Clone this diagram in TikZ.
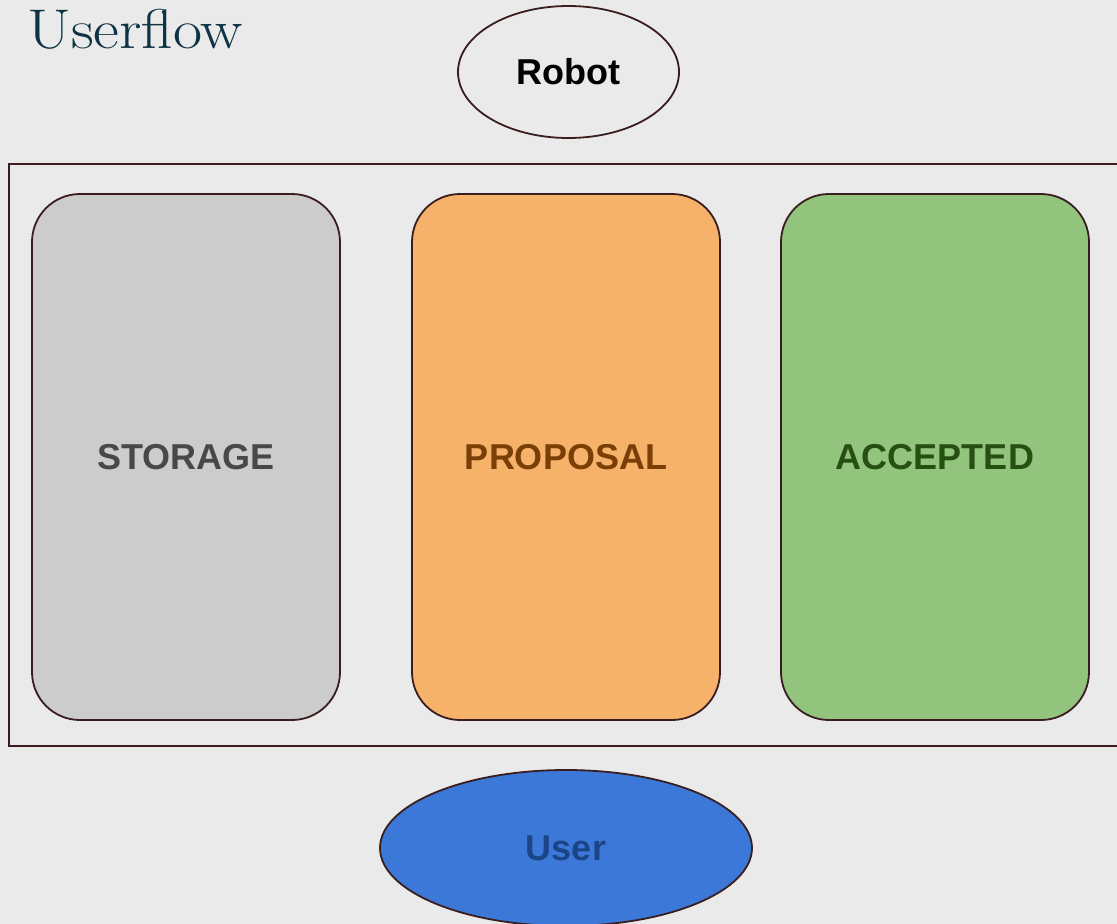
\documentclass[tikz,border=0pt]{standalone}
\usepackage{fontspec}
\newfontfamily\labelfont{Liberation Sans}
\usetikzlibrary{shapes.geometric}
\definecolor{bg}{HTML}{EAEAEA}
\definecolor{edge}{HTML}{3A1E1F}
\definecolor{titlecol}{HTML}{0D3344}
\definecolor{storfill}{HTML}{CCCCCC}
\definecolor{stortext}{HTML}{484848}
\definecolor{propfill}{HTML}{F6B26B}
\definecolor{proptext}{HTML}{7A3F05}
\definecolor{accfill}{HTML}{93C47D}
\definecolor{acctext}{HTML}{274E13}
\definecolor{userfill}{HTML}{3C78D8}
\definecolor{usertext}{HTML}{1C4587}
\tikzset{
  column/.style={draw=edge, line width=1.8pt, rounded corners=48pt,
    minimum width=308pt, minimum height=526pt, inner sep=0pt,
    font=\labelfont\bfseries\fontsize{36}{40}\selectfont},
  actor/.style={ellipse, draw=edge, line width=1.8pt, inner sep=0pt,
    font=\labelfont\bfseries\fontsize{36}{40}\selectfont}
}
\begin{document}
\begin{tikzpicture}[x=1pt,y=-1pt]
  \useasboundingbox (0,0) rectangle (1117,924);
  \fill[bg] (0,0) rectangle (1117,924);
  \clip (0,0) rectangle (1117,924);
  % title
  \node[anchor=base west, inner sep=0pt, text=titlecol,
        font=\fontsize{56}{60}\selectfont] (title) at (27,48)
        {\scalebox{1.13}[1]{Userflow}};
  % board frame
  \draw[edge, line width=1.8pt] (1130,164) -- (9,164) -- (9,746) -- (1130,746);
  % columns
  \node[column, fill=storfill, text=stortext] (storage) at (186,457) {STORAGE};
  \node[column, fill=propfill, text=proptext] (proposal) at (566,457) {PROPOSAL};
  \node[column, fill=accfill, text=acctext] (accepted) at (935,457) {ACCEPTED};
  % actors
  \node[actor, fill=bg, text=black, minimum width=221pt, minimum height=132pt] (robot) at (568.5,72) {Robot};
  \node[actor, fill=userfill, text=usertext, minimum width=372pt, minimum height=156pt] (user) at (566,848) {User};
\end{tikzpicture}
\end{document}
